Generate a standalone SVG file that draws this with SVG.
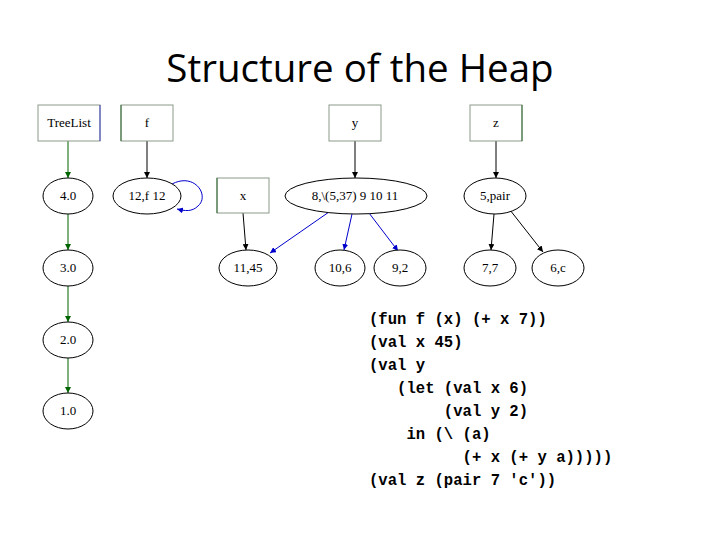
<svg xmlns="http://www.w3.org/2000/svg" width="720" height="540" viewBox="0 0 720 540">
<defs>
<marker id="ak" viewBox="0 0 10 10" refX="10" refY="5" markerWidth="6" markerHeight="6" orient="auto" markerUnits="userSpaceOnUse"><path d="M0,0 L10,5 L0,10 z" fill="#000"/></marker>
<marker id="ag" viewBox="0 0 10 10" refX="10" refY="5" markerWidth="6" markerHeight="6" orient="auto" markerUnits="userSpaceOnUse"><path d="M0,0 L10,5 L0,10 z" fill="#006400"/></marker>
<marker id="ab" viewBox="0 0 10 10" refX="10" refY="5" markerWidth="6" markerHeight="6" orient="auto" markerUnits="userSpaceOnUse"><path d="M0,0 L10,5 L0,10 z" fill="#0000cc"/></marker>
</defs>
<style>
.box{fill:#fff;stroke:#8a9a8a;stroke-width:1}
.el{fill:#fff;stroke:#000;stroke-width:1}
.lbl{font-family:"Liberation Serif",serif;font-size:13px;text-anchor:middle;fill:#000}
.k{stroke:#000;stroke-width:1;fill:none;marker-end:url(#ak)}
.g{stroke:#006400;stroke-width:1;fill:none;marker-end:url(#ag)}
.b{stroke:#0000cc;stroke-width:1;fill:none;marker-end:url(#ab)}
.code text{font-family:"Liberation Mono",monospace;font-size:15.6px;font-weight:bold;fill:#000;white-space:pre}
</style>
<rect width="720" height="540" fill="#fff"/>
<text x="360" y="82" font-family="Open Sans, Liberation Sans, sans-serif" font-size="38.5" text-anchor="middle" fill="#000">Structure of the Heap</text>
<g id="connectors">
<line class="g" x1="68" y1="141" x2="68" y2="178"/>
<line class="g" x1="68" y1="214" x2="68" y2="250"/>
<line class="g" x1="68" y1="286" x2="68" y2="322"/>
<line class="g" x1="68" y1="358" x2="68" y2="393"/>
<line class="k" x1="147" y1="141" x2="147" y2="178"/>
<path class="b" d="M172,184 C195,172 210,196 198,206 C192,212 185,211 177,209"/>
<line class="k" x1="355" y1="141" x2="355" y2="178"/>
<line class="k" x1="496" y1="141" x2="496" y2="178"/>
<line class="k" x1="243" y1="213" x2="246" y2="250"/>
<line class="b" x1="329" y1="212" x2="270" y2="253"/>
<line class="b" x1="352" y1="214" x2="344" y2="250"/>
<line class="b" x1="369" y1="213" x2="398" y2="251"/>
<line class="k" x1="494" y1="214" x2="491" y2="250"/>
<line class="k" x1="510" y1="210" x2="543" y2="252"/>
</g>
<g id="TreeList"><rect class="box" x="38" y="105" width="62" height="36"/><line x1="100" y1="105" x2="100" y2="141" stroke="#4040c0"/><text class="lbl" x="69" y="127">TreeList</text></g>
<g id="f"><rect class="box" x="121" y="105" width="52" height="36"/><line x1="121" y1="105" x2="121" y2="141" stroke="#2e6b2e"/><text class="lbl" x="147" y="127">f</text></g>
<g id="y"><rect class="box" x="329" y="105" width="52" height="36"/><text class="lbl" x="355" y="127">y</text></g>
<g id="z"><rect class="box" x="470" y="105" width="52" height="36"/><line x1="522" y1="105" x2="522" y2="141" stroke="#2e6b2e"/><text class="lbl" x="496" y="127">z</text></g>
<g id="x"><rect class="box" x="217" y="178" width="52" height="35"/><line x1="217" y1="178" x2="217" y2="213" stroke="#2e6b2e"/><text class="lbl" x="243" y="200">x</text></g>
<g id="n40"><ellipse class="el" cx="68" cy="196" rx="25" ry="18"/><text class="lbl" x="68" y="200">4.0</text></g>
<g id="n30"><ellipse class="el" cx="68" cy="268" rx="25" ry="18"/><text class="lbl" x="68" y="272">3.0</text></g>
<g id="n20"><ellipse class="el" cx="68" cy="340" rx="25" ry="18"/><text class="lbl" x="68" y="344">2.0</text></g>
<g id="n10"><ellipse class="el" cx="68" cy="411" rx="25" ry="18"/><text class="lbl" x="68" y="415">1.0</text></g>
<g id="n12"><ellipse class="el" cx="147" cy="196" rx="34" ry="18"/><text class="lbl" x="147" y="200">12,f 12</text></g>
<g id="n8"><ellipse class="el" cx="356" cy="196" rx="71" ry="18"/><text class="lbl" x="355" y="200">8,\(5,37) 9 10 11</text></g>
<g id="n5"><ellipse class="el" cx="495" cy="196" rx="31" ry="18"/><text class="lbl" x="495" y="200">5,pair</text></g>
<g id="n11"><ellipse class="el" cx="248" cy="268" rx="29" ry="18"/><text class="lbl" x="248" y="272">11,45</text></g>
<g id="n106"><ellipse class="el" cx="340" cy="268" rx="25" ry="18"/><text class="lbl" x="340" y="272">10,6</text></g>
<g id="n92"><ellipse class="el" cx="400" cy="268" rx="26" ry="18"/><text class="lbl" x="400" y="272">9,2</text></g>
<g id="n77"><ellipse class="el" cx="490" cy="268" rx="26" ry="18"/><text class="lbl" x="490" y="272">7,7</text></g>
<g id="n6c"><ellipse class="el" cx="558" cy="268" rx="26" ry="18"/><text class="lbl" x="558" y="272">6,c</text></g>
<g id="code" class="code">
<text x="369" y="324" xml:space="preserve">(fun f (x) (+ x 7))</text>
<text x="369" y="347" xml:space="preserve">(val x 45)</text>
<text x="369" y="370" xml:space="preserve">(val y</text>
<text x="369" y="393" xml:space="preserve">   (let (val x 6)</text>
<text x="369" y="416" xml:space="preserve">        (val y 2)</text>
<text x="369" y="439" xml:space="preserve">    in (\ (a)</text>
<text x="369" y="462" xml:space="preserve">          (+ x (+ y a)))))</text>
<text x="369" y="485" xml:space="preserve">(val z (pair 7 'c'))</text>
</g>
</svg>
